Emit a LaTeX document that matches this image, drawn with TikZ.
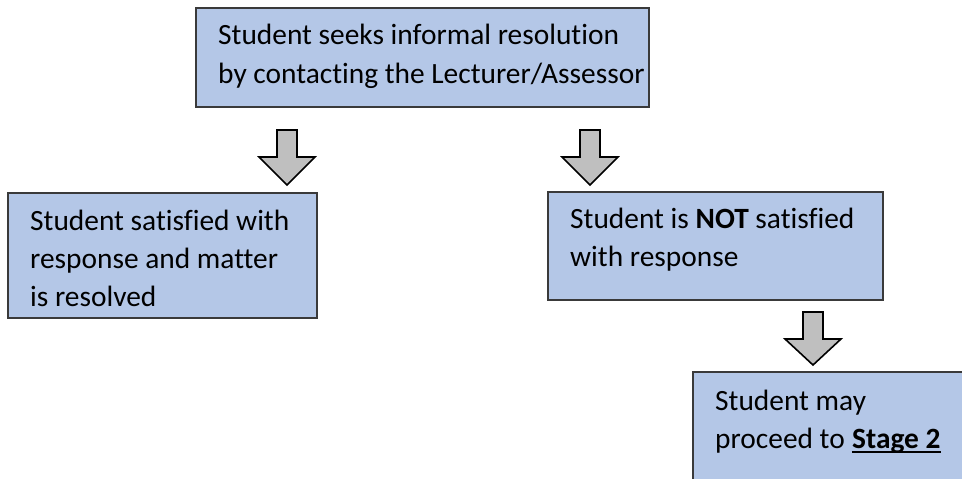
\documentclass[tikz,border=0pt]{standalone}
\usepackage{fontspec}
\setmainfont[Ligatures=NoCommon]{Carlito}
\definecolor{boxfill}{HTML}{B4C7E7}
\definecolor{boxline}{HTML}{3A3A3A}
\definecolor{arrfill}{HTML}{BFBFBF}
\tikzset{
  x=1pt, y=-1pt,
  stepbox/.style={draw=boxline, line width=1.2pt, fill=boxfill},
  txt/.style={anchor=base west, inner sep=0pt, font=\fontsize{29.4}{37}\selectfont},
  blockarrow/.style={draw=black, line width=1.6pt, fill=arrfill, line join=miter},
}
\newcommand{\blockarr}[3]{% center x, top y, tip y
  \draw[blockarrow] (#1-10,#2) -- (#1+10,#2) -- (#1+10,#2+27) -- (#1+28,#2+27) -- (#1,#3) -- (#1-28,#2+27) -- (#1-10,#2+27) -- cycle;
}
\begin{document}
\begin{tikzpicture}
\useasboundingbox (0,0) rectangle (962,479);
\clip (0,0) rectangle (962,479);
\fill[white] (0,0) rectangle (962,479);
% boxes
\draw[stepbox] (196,8) rectangle (649,107);
\draw[stepbox] (8,193) rectangle (317,318);
\draw[stepbox] (548,192) rectangle (883,300);
\draw[stepbox] (693,372) rectangle (990,500);
% texts
\node[txt] (t1a) at (218,45) {Student seeks informal resolution};
\node[txt] (t1b) at (218,83) {by contacting the Lecturer/Assessor};
\node[txt] (t2a) at (30,230) {Student satisfied with};
\node[txt] (t2b) at (30,268) {response and matter};
\node[txt] (t2c) at (30,306) {is resolved};
\node[txt] (t3a) at (570,228) {Student is \textbf{NOT} satisfied};
\node[txt] (t3b) at (570,266) {with response};
\node[txt] (t4a) at (715,410) {Student may};
\node[txt] (t4b) at (715,448) {proceed to};
\node[txt, font=\fontsize{29.4}{37}\selectfont\bfseries] (t4c) at ([xshift=7pt]t4b.base east) {Stage 2};
\draw[line width=2pt] ([yshift=-4pt]t4c.base west) -- ([yshift=-4pt]t4c.base east);
% arrows
\blockarr{287}{130}{185}
\blockarr{590}{130}{185}
\blockarr{813}{312}{365}
\end{tikzpicture}
\end{document}
